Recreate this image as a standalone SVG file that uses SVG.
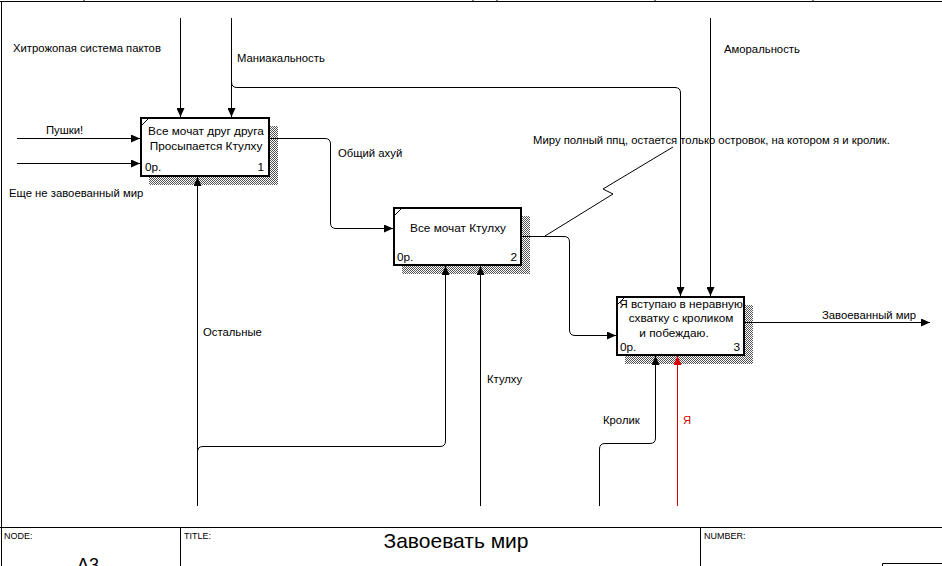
<svg xmlns="http://www.w3.org/2000/svg" width="942" height="566" viewBox="0 0 942 566">
<style>
text{font-family:"Liberation Sans",Arial,sans-serif;font-size:11.3px;fill:#000}
.ln{fill:none;stroke:#000;stroke-width:1}
.red{fill:none;stroke:#d00000;stroke-width:1}
.box{fill:#fff;stroke:#000;stroke-width:2}
.shadow{fill:url(#hatch)}
.bt{font-size:11.8px}
.mid{text-anchor:middle}
.end{text-anchor:end}
.small{font-size:9px}
</style>
<defs>
<pattern id="hatch" width="2" height="2" patternUnits="userSpaceOnUse">
<rect width="2" height="2" fill="#fff"/>
<rect width="1" height="1" fill="#555"/>
<rect x="1" y="1" width="1" height="1" fill="#555"/>
</pattern>
<marker id="ah" markerWidth="9" markerHeight="8" refX="9" refY="4" orient="auto" markerUnits="userSpaceOnUse">
<path d="M0,0 L9,4 L0,8 z" fill="#000"/>
</marker>
<marker id="ahr" markerWidth="9" markerHeight="8" refX="9" refY="4" orient="auto" markerUnits="userSpaceOnUse">
<path d="M0,0 L9,4 L0,8 z" fill="#e00000"/>
</marker>
</defs>
<rect width="942" height="566" fill="#fff"/>
<g id="frame">
<path class="ln" d="M0,1.5 H942 M1.5,1 V566 M84,0 V2 M473,0 V2 M497,0 V2 M655,0 V2 M813,0 V2"/>
<path class="ln" d="M0,527.5 H942 M180.5,527 V566 M700.5,527 V566 M882.5,566 V563.5 H942"/>
<text x="4" y="539" class="small">NODE:</text>
<text x="184" y="539" class="small">TITLE:</text>
<text x="704" y="539" class="small">NUMBER:</text>
<text x="456" y="548" class="mid" style="font-size:21px">Завоевать мир</text>
<text x="88" y="571" class="mid" style="font-size:18px">A3</text>
</g>
<g id="node1">
<rect class="shadow" x="149" y="126" width="129" height="59"/>
<rect class="box" x="141" y="118" width="128" height="58"/>
<path class="ln" d="M141,126 L149,118"/>
<text x="206" y="135" class="mid bt">Все мочат друг друга</text>
<text x="206" y="150" class="mid bt">Просыпается Ктулху</text>
<text x="145" y="171" class="bt">0р.</text>
<text x="264" y="171" class="end bt">1</text>
</g>
<g id="node2">
<rect class="shadow" x="402" y="216" width="128" height="58"/>
<rect class="box" x="394" y="208" width="127" height="57"/>
<path class="ln" d="M394,216 L402,208"/>
<text x="458" y="232" class="mid bt">Все мочат Ктулху</text>
<text x="397" y="261" class="bt">0р.</text>
<text x="517" y="261" class="end bt">2</text>
</g>
<g id="node3">
<rect class="shadow" x="625" y="305" width="128" height="59"/>
<rect class="box" x="617" y="297" width="127" height="58"/>
<path class="ln" d="M617,305 L625,297"/>
<text x="681" y="308" class="mid bt">Я вступаю в неравную</text>
<text x="681" y="322" class="mid bt">схватку с кроликом</text>
<text x="674" y="337" class="mid bt">и побеждаю.</text>
<text x="620" y="351" class="bt">0р.</text>
<text x="740" y="351" class="end bt">3</text>
</g>
<g id="connectors">
<path class="ln" d="M180.5,18 V117" marker-end="url(#ah)"/>
<path class="ln" d="M231.5,18 V117" marker-end="url(#ah)"/>
<path class="ln" d="M231.5,82 Q231.5,87.5 237,87.5 H675 Q680.5,87.5 680.5,93 V296" marker-end="url(#ah)"/>
<path class="ln" d="M710.5,18 V296" marker-end="url(#ah)"/>
<path class="ln" d="M17,138.5 H140" marker-end="url(#ah)"/>
<path class="ln" d="M17,163.5 H140" marker-end="url(#ah)"/>
<path class="ln" d="M197.5,506 V177" marker-end="url(#ah)"/>
<path class="ln" d="M197.5,452 Q197.5,446.5 203,446.5 H440 Q445.5,446.5 445.5,441 V266" marker-end="url(#ah)"/>
<path class="ln" d="M480.5,506 V266" marker-end="url(#ah)"/>
<path class="ln" d="M270,138.5 H325 Q330.5,138.5 330.5,144 V223 Q330.5,228.5 336,228.5 H393" marker-end="url(#ah)"/>
<path class="ln" d="M522,236.5 H564 Q569.5,236.5 569.5,242 V330 Q569.5,335.5 575,335.5 H616" marker-end="url(#ah)"/>
<path class="ln" d="M599.5,506 V449 Q599.5,443.5 605,443.5 H650 Q655.5,443.5 655.5,438 V356" marker-end="url(#ah)"/>
<path class="red" d="M677.5,506 V356" marker-end="url(#ahr)"/>
<path class="ln" d="M745,322.5 H930" marker-end="url(#ah)"/>
<path class="ln" d="M545,236 L613,194 L603,189 L673,147"/>
</g>
<g id="labels">
<text x="13" y="52">Хитрожопая система пактов</text>
<text x="237" y="62">Маниакальность</text>
<text x="46" y="134">Пушки!</text>
<text x="9" y="197">Еще не завоеванный мир</text>
<text x="203" y="336">Остальные</text>
<text x="338" y="157">Общий ахуй</text>
<text x="724" y="53">Аморальность</text>
<text x="533" y="144">Миру полный ппц, остается только островок, на котором я и кролик.</text>
<text x="487" y="383">Ктулху</text>
<text x="603" y="424">Кролик</text>
<text x="683" y="424" style="fill:#d00000">Я</text>
<text x="822" y="319">Завоеванный мир</text>
</g>
</svg>
